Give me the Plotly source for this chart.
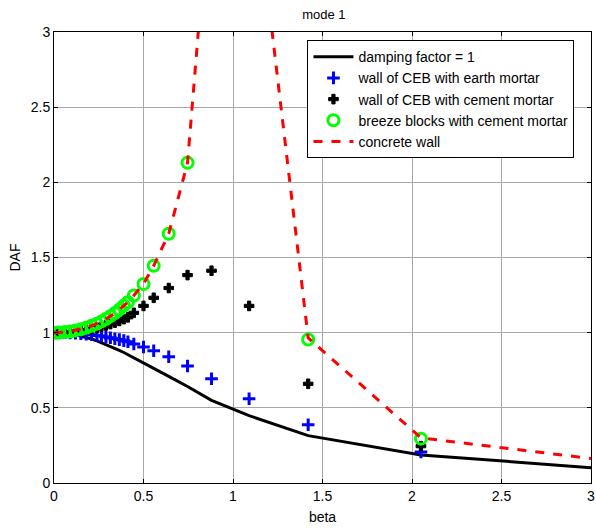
import plotly.graph_objects as go

# beta values (common to the measured series)
beta = [0.015, 0.03, 0.06, 0.09, 0.12, 0.15, 0.18, 0.21, 0.24, 0.265, 0.29, 0.315,
        0.34, 0.365, 0.39, 0.413, 0.446, 0.5, 0.557, 0.641, 0.746, 0.88, 1.09, 1.42, 2.05]

# damping factor = 1 curve
beta_damp = [0.0, 0.03, 0.06, 0.09, 0.12, 0.15, 0.18, 0.21, 0.24, 0.265, 0.29, 0.315,
             0.34, 0.365, 0.39, 0.413, 0.446, 0.5, 0.557, 0.641, 0.746, 0.88, 1.09, 1.42, 2.05, 3.0]
daf_damp = [1.0, 0.999, 0.996, 0.992, 0.986, 0.978, 0.969, 0.958, 0.946, 0.934, 0.922, 0.91,
            0.896, 0.882, 0.868, 0.854, 0.834, 0.8, 0.763, 0.709, 0.642, 0.55, 0.448, 0.315, 0.187, 0.102]

# wall of CEB with earth mortar
daf_earth = [1.0, 1.0, 0.999, 0.998, 0.996, 0.993, 0.99, 0.986, 0.981, 0.977, 0.972, 0.966,
             0.96, 0.954, 0.947, 0.94, 0.925, 0.905, 0.88, 0.84, 0.778, 0.693, 0.56, 0.387, 0.207]

# wall of CEB with cement mortar
daf_cement = [1.0, 1.0, 1.002, 1.005, 1.008, 1.013, 1.018, 1.025, 1.033, 1.04, 1.048, 1.057,
              1.067, 1.078, 1.09, 1.102, 1.132, 1.178, 1.232, 1.297, 1.383, 1.412, 1.178, 0.66, 0.245]

# breeze blocks with cement mortar
daf_breeze = [1.0, 1.001, 1.004, 1.008, 1.015, 1.023, 1.033, 1.046, 1.06, 1.075, 1.091, 1.11,
              1.13, 1.154, 1.18, 1.203, 1.247, 1.324, 1.445, 1.658, 2.13, 4.07, 4.3, 0.955, 0.295]

# concrete wall
beta_concrete = [0.0, 0.03, 0.06, 0.09, 0.12, 0.15, 0.18, 0.21, 0.24, 0.265, 0.29, 0.315,
                 0.34, 0.365, 0.39, 0.413, 0.446, 0.5, 0.557, 0.641, 0.746, 0.88, 1.09, 1.42, 2.05, 3.0]
daf_concrete = [1.0, 1.001, 1.004, 1.008, 1.015, 1.023, 1.033, 1.046, 1.06, 1.075, 1.091, 1.11,
                1.13, 1.154, 1.18, 1.203, 1.247, 1.324, 1.445, 1.658, 2.13, 4.07, 4.3, 0.965, 0.3, 0.163]

x_ticks = [0, 0.5, 1, 1.5, 2, 2.5, 3]
y_ticks = [0, 0.5, 1, 1.5, 2, 2.5, 3]

FONT = "Liberation Sans, Arial, sans-serif"

fig = go.Figure()
fig.add_trace(go.Scatter(x=beta_damp, y=daf_damp, mode="lines",
                         name="damping factor = 1",
                         line=dict(color="black", width=3)))
fig.add_trace(go.Scatter(x=beta, y=daf_earth, mode="markers",
                         name="wall of CEB with earth mortar",
                         marker=dict(symbol="cross-thin", size=9, color="blue",
                                     line=dict(color="blue", width=3))))
fig.add_trace(go.Scatter(x=beta, y=daf_cement, mode="markers",
                         name="wall of CEB with cement mortar",
                         marker=dict(symbol="cross", size=8, color="black",
                                     line=dict(color="black", width=1))))
fig.add_trace(go.Scatter(x=beta, y=daf_breeze, mode="markers",
                         name="breeze blocks with cement mortar",
                         marker=dict(symbol="circle-open", size=11, color="#00ff00",
                                     line=dict(color="#00ff00", width=3))))
fig.add_trace(go.Scatter(x=beta_concrete, y=daf_concrete, mode="lines",
                         name="concrete wall",
                         line=dict(color="red", width=3, dash="dash")))

axis_common = dict(showgrid=True, gridcolor="#a8a8a8", gridwidth=1,
                   showline=True, linecolor="black", linewidth=1, mirror="ticks",
                   ticks="inside", ticklen=4, tickcolor="black", automargin=False,
                   ticklabeloverflow="allow",
                   zeroline=False, tickfont=dict(family=FONT, size=14, color="black"))

fig.update_xaxes(range=[0, 3], tickvals=x_ticks, ticktext=[str(v) for v in x_ticks],
                 title=dict(text="beta", font=dict(family=FONT, size=14, color="black"), standoff=9),
                 **axis_common)
fig.update_yaxes(range=[0, 3], tickvals=y_ticks, ticktext=[str(v) for v in y_ticks],
                 title=dict(text="DAF", font=dict(family=FONT, size=14, color="black"), standoff=6),
                 **axis_common)

fig.update_layout(
    width=596, height=529,
    margin=dict(l=54, r=5, t=32, b=46, autoexpand=False),
    paper_bgcolor="white", plot_bgcolor="white",
    title=dict(text="mode 1", x=0.5435, xanchor="center", y=0.972, yanchor="middle",
               font=dict(family=FONT, size=13, color="black"), automargin=False),
    font=dict(family=FONT, size=14, color="black"),
    legend=dict(x=0.472, y=0.982, xanchor="left", yanchor="top",
                bgcolor="white", bordercolor="black", borderwidth=1,
                font=dict(family=FONT, size=14, color="black"),
                itemwidth=40, tracegroupgap=0),
    showlegend=True,
)

fig.write_html("out.html", config={"displayModeBar": False},
               post_script="document.body.style.margin='0';document.body.style.overflow='hidden';")
